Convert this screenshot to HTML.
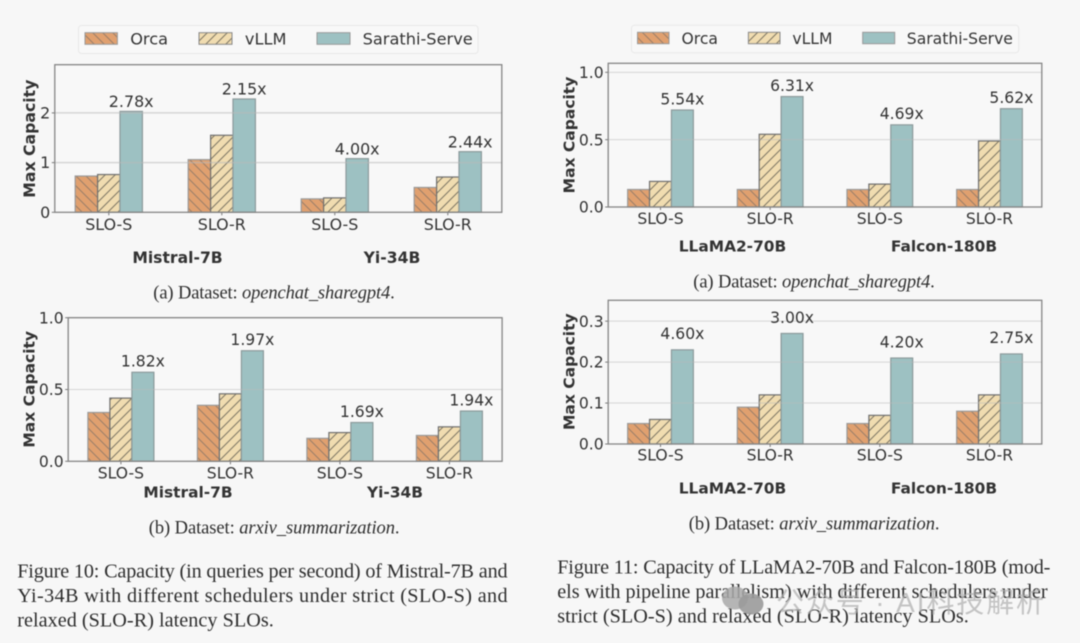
<!DOCTYPE html>
<html lang="en">
<head>
<meta charset="utf-8">
<title>Capacity figures</title>
<style>
html,body{margin:0;padding:0;background:#f7f7f7;width:1080px;height:643px;overflow:hidden}
svg{display:block;filter:blur(.45px)}
.dj{font-family:"DejaVu Sans","Liberation Sans",sans-serif;fill:#333}
.cap{font-family:"Liberation Serif",serif;fill:#2e2e2e}
.bold{font-weight:bold}
</style>
</head>
<body>
<svg id="figure" xmlns="http://www.w3.org/2000/svg" width="1080" height="643" viewBox="0 0 1080 643">
<defs>
<pattern id="hatch-orca" patternUnits="userSpaceOnUse" width="10" height="10">
<rect width="10" height="10" fill="#e0a06f"/>
<path d="M-2.5,7.5 L2.5,12.5 M0,0 L10,10 M7.5,-2.5 L12.5,2.5" stroke="#9b7f69" stroke-width="1"/>
</pattern>
<pattern id="hatch-vllm" patternUnits="userSpaceOnUse" width="10" height="10">
<rect width="10" height="10" fill="#f0dcb0"/>
<path d="M-2.5,2.5 L2.5,-2.5 M0,10 L10,0 M7.5,12.5 L12.5,7.5" stroke="#7f7866" stroke-width="1"/>
</pattern>
</defs>
<rect width="1080" height="643" fill="#f7f7f7"/>

<g>
<rect x="78.5" y="25.5" width="399.5" height="28" rx="3" fill="#f8f8f8" stroke="#e8e8e8"/>
<rect x="85" y="32.7" width="32.4" height="11.6" fill="url(#hatch-orca)" stroke="#999"/>
<text class="dj" x="130.2" y="44.5" font-size="16.2">Orca</text>
<rect x="199" y="32.7" width="33" height="11.6" fill="url(#hatch-vllm)" stroke="#888"/>
<text class="dj" x="244.9" y="44.5" font-size="16.2">vLLM</text>
<rect x="317" y="32.7" width="33" height="11.6" fill="#9dc1c2" stroke="#999"/>
<text class="dj" x="362.6" y="44.5" font-size="16.2">Sarathi-Serve</text>
</g>

<g>
<rect x="631.5" y="25.3" width="387.2" height="27.4" rx="3" fill="#f8f8f8" stroke="#e8e8e8"/>
<rect x="637.5" y="32.3" width="31.5" height="11.4" fill="url(#hatch-orca)" stroke="#999"/>
<text class="dj" x="681.5" y="43.8" font-size="15.6">Orca</text>
<rect x="748.4" y="32.3" width="31.6" height="11.4" fill="url(#hatch-vllm)" stroke="#888"/>
<text class="dj" x="792.4" y="43.8" font-size="15.6">vLLM</text>
<rect x="862.7" y="32.3" width="32" height="11.4" fill="#9dc1c2" stroke="#999"/>
<text class="dj" x="906.8" y="43.8" font-size="15.6">Sarathi-Serve</text>
</g>

<g id="panel-a"></g>
<g id="panel-b"></g>
<g id="panel-c"></g>
<g id="panel-d"></g>

<text class="cap" x="153.3" y="298.6" font-size="18.5" textLength="241.4">(a) Dataset: <tspan font-style="italic">openchat_sharegpt4</tspan>.</text>
<text class="cap" x="148.8" y="533.3" font-size="18.5" textLength="250.7">(b) Dataset: <tspan font-style="italic">arxiv_summarization</tspan>.</text>
<text class="cap" x="693.3" y="287.3" font-size="18.5" textLength="241.4">(a) Dataset: <tspan font-style="italic">openchat_sharegpt4</tspan>.</text>
<text class="cap" x="688.8" y="529.3" font-size="18.5" textLength="250.7">(b) Dataset: <tspan font-style="italic">arxiv_summarization</tspan>.</text>

<g>
<text class="cap" x="17.2" y="577.7" font-size="20.2" textLength="490.4">Figure 10: Capacity (in queries per second) of Mistral-7B and</text>
<text class="cap" x="17.2" y="602" font-size="20.2" textLength="490.4">Yi-34B with different schedulers under strict (SLO-S) and</text>
<text class="cap" x="17.2" y="626.3" font-size="20.2" textLength="256.6">relaxed (SLO-R) latency SLOs.</text>
</g>
<g>
<text class="cap" x="557.2" y="573.3" font-size="20.2" textLength="493.2">Figure 11: Capacity of LLaMA2-70B and Falcon-180B (mod-</text>
<text class="cap" x="557.2" y="598" font-size="20.2" textLength="490.4">els with pipeline parallelism) with different schedulers under</text>
<text class="cap" x="557.2" y="622.3" font-size="20.2" textLength="411.6">strict (SLO-S) and relaxed (SLO-R) latency SLOs.</text>
</g>

<g>
<ellipse cx="735" cy="598" rx="13" ry="11.5" fill="#a9a9a9" opacity="0.85"/>
<ellipse cx="751" cy="604" rx="12.5" ry="10.5" fill="#9a9a9a" opacity="0.9"/>
<text x="776" y="612" font-size="28" textLength="268" fill="#b0b0b0" opacity="0.72" style="font-family:'Liberation Sans','Noto Sans CJK SC',sans-serif">公众号 · AI科技解析</text>
</g>
</svg>

<script>
var categories = ['SLO-S', 'SLO-R', 'SLO-S', 'SLO-R'];

var panelAModels = ['Mistral-7B', 'Yi-34B'];
var panelATicks = ['0', '1', '2'];
var panelAOrca = [0.73, 1.06, 0.27, 0.50];
var panelAVllm = [0.76, 1.55, 0.29, 0.71];
var panelASarathi = [2.03, 2.28, 1.08, 1.22];
var panelAGains = ['2.78x', '2.15x', '4.00x', '2.44x'];

var panelBModels = ['Mistral-7B', 'Yi-34B'];
var panelBTicks = ['0.0', '0.5', '1.0'];
var panelBOrca = [0.34, 0.39, 0.16, 0.18];
var panelBVllm = [0.44, 0.47, 0.20, 0.24];
var panelBSarathi = [0.62, 0.77, 0.27, 0.35];
var panelBGains = ['1.82x', '1.97x', '1.69x', '1.94x'];

var panelCModels = ['LLaMA2-70B', 'Falcon-180B'];
var panelCTicks = ['0.0', '0.5', '1.0'];
var panelCOrca = [0.13, 0.13, 0.13, 0.13];
var panelCVllm = [0.19, 0.54, 0.17, 0.49];
var panelCSarathi = [0.72, 0.82, 0.61, 0.73];
var panelCGains = ['5.54x', '6.31x', '4.69x', '5.62x'];

var panelDModels = ['LLaMA2-70B', 'Falcon-180B'];
var panelDTicks = ['0.0', '0.1', '0.2', '0.3'];
var panelDOrca = [0.05, 0.09, 0.05, 0.08];
var panelDVllm = [0.06, 0.12, 0.07, 0.12];
var panelDSarathi = [0.23, 0.27, 0.21, 0.22];
var panelDGains = ['4.60x', '3.00x', '4.20x', '2.75x'];

var SVGNS = 'http://www.w3.org/2000/svg';

function make(parent, tag, attrs, text) {
  var el = document.createElementNS(SVGNS, tag);
  for (var k in attrs) { el.setAttribute(k, attrs[k]); }
  if (text !== undefined) { el.textContent = text; }
  parent.appendChild(el);
  return el;
}

function drawPanel(p) {
  var root = document.getElementById(p.id);
  var step = (p.right - p.left - 2 * p.pad) / (categories.length - 1);
  function xScale(i) { return p.left + p.pad + i * step; }
  function yScale(v) { return p.bottom - (v / p.yMax) * (p.bottom - p.top); }

  var frame = make(root, 'rect', {x: p.left, y: p.top, width: p.right - p.left, height: p.bottom - p.top, fill: '#f8f8f8'});
  
  

  var seriesList = [
    {name: 'orca', values: p.orca, fill: 'url(#hatch-orca)', edge: '#9a9a9a', offset: -1},
    {name: 'vllm', values: p.vllm, fill: 'url(#hatch-vllm)', edge: '#6f6f6f', offset: 0},
    {name: 'sarathi', values: p.sarathi, fill: '#9dc1c2', edge: '#8c9a9b', offset: 1}
  ];

  seriesList.forEach(function (s) {
    s.values.forEach(function (v, i) {
      var bar = make(root, 'rect', {
        x: xScale(i) + (s.offset - 0.5) * p.barWidth,
        y: yScale(v),
        width: p.barWidth,
        height: yScale(0) - yScale(v),
        fill: s.fill,
        stroke: s.edge,
        'stroke-width': 1.2
      });
      
      
    });
  });

  p.ticks.forEach(function (t) {
    var y = yScale(parseFloat(t));
    if (parseFloat(t) > 0) {
      var grid = make(root, 'line', {x1: p.left, x2: p.right, y1: y, y2: y, stroke: 'rgba(185,185,185,.55)', 'stroke-width': p.gridWidth});
      
      
    }
    var tick = make(root, 'line', {x1: p.left - 3, x2: p.left, y1: y, y2: y, stroke: '#777', 'stroke-width': 1});
    
    
    var label = make(root, 'text', {x: p.left - 4.5, y: y + 5.6, 'text-anchor': 'end', 'font-size': p.font, 'class': 'dj'}, t);
    
    
  });

  categories.forEach(function (c, i) {
    var tick = make(root, 'line', {x1: xScale(i), x2: xScale(i), y1: p.bottom, y2: p.bottom + 3, stroke: '#777', 'stroke-width': 1});
    
    
    var label = make(root, 'text', {x: xScale(i), y: p.tickBase, 'text-anchor': 'middle', 'font-size': p.font, 'class': 'dj'}, c);
    
    
    var gain = make(root, 'text', {
      x: xScale(i) + p.barWidth,
      y: yScale(p.sarathi[i]) - p.gainGap,
      'text-anchor': 'middle',
      'font-size': p.font,
      'class': 'dj'
    }, p.gains[i]);
    
    
  });

  p.models.forEach(function (m, i) {
    var label = make(root, 'text', {x: p.modelX[i], y: p.modelBase, 'text-anchor': 'middle', 'font-size': p.modelFont, 'class': 'dj bold'}, m);
    
    
  });

  var border = make(root, 'rect', {x: p.left, y: p.top, width: p.right - p.left, height: p.bottom - p.top, fill: 'none', stroke: '#858585', 'stroke-width': 1.3});
  
  

  var yTitle = make(root, 'text', {
    x: 0, y: 0,
    transform: 'translate(' + p.titleX + ',' + p.titleY + ') rotate(-90)',
    'text-anchor': 'middle',
    'font-size': p.titleFont,
    'class': 'dj bold'
  }, 'Max Capacity');
  
  
}

drawPanel({id: 'panel-a', left: 54.8, right: 501.8, top: 64.7, bottom: 212.3, pad: 54, yMax: 2.97, barWidth: 22.4, font: 15.9, modelFont: 15.6, titleFont: 15.7, titleX: 35, titleY: 138.7, tickBase: 230, modelBase: 263, modelX: [177.5, 392], gainGap: 4.3, gridWidth: 1.5, ticks: panelATicks, models: panelAModels, orca: panelAOrca, vllm: panelAVllm, sarathi: panelASarathi, gains: panelAGains});
drawPanel({id: 'panel-b', left: 68.2, right: 502.1, top: 317.7, bottom: 461.3, pad: 52.7, yMax: 1.0, barWidth: 22, font: 15.6, modelFont: 15.4, titleFont: 15.5, titleX: 34.4, titleY: 389.3, tickBase: 478.3, modelBase: 497.3, modelX: [188, 395], gainGap: 5.6, gridWidth: 1, ticks: panelBTicks, models: panelBModels, orca: panelBOrca, vllm: panelBVllm, sarathi: panelBSarathi, gains: panelBGains});
drawPanel({id: 'panel-c', left: 608.2, right: 1041.8, top: 63.3, bottom: 207, pad: 52.3, yMax: 1.067, barWidth: 21.9, font: 15.6, modelFont: 15.4, titleFont: 15.5, titleX: 574.4, titleY: 135, tickBase: 224, modelBase: 251.7, modelX: [732.5, 944], gainGap: 5.7, gridWidth: 1, ticks: panelCTicks, models: panelCModels, orca: panelCOrca, vllm: panelCVllm, sarathi: panelCSarathi, gains: panelCGains});
drawPanel({id: 'panel-d', left: 608.2, right: 1041.8, top: 300.3, bottom: 444, pad: 52.3, yMax: 0.351, barWidth: 21.9, font: 15.6, modelFont: 15.4, titleFont: 15.5, titleX: 574.4, titleY: 371.7, tickBase: 460.7, modelBase: 493.3, modelX: [732.5, 944], gainGap: 10.7, gridWidth: 1, ticks: panelDTicks, models: panelDModels, orca: panelDOrca, vllm: panelDVllm, sarathi: panelDSarathi, gains: panelDGains});
</script>
</body>
</html>
